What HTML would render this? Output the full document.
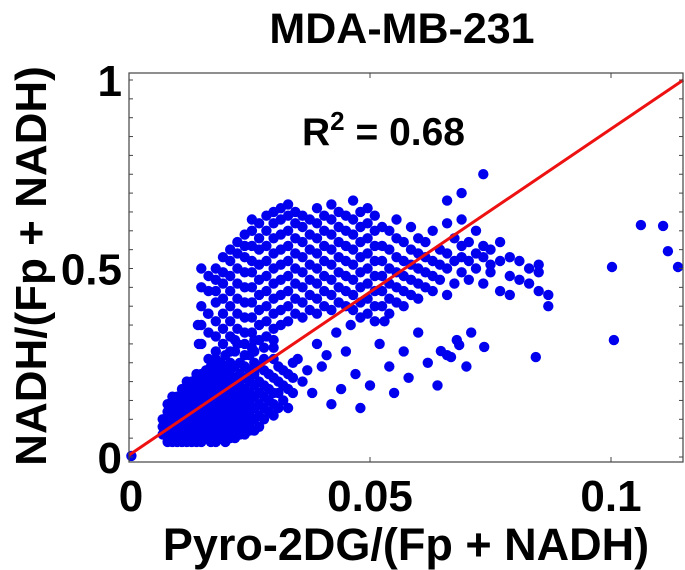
<!DOCTYPE html>
<html><head><meta charset="utf-8"><style>
html,body{margin:0;padding:0;background:#fff;width:685px;height:570px;overflow:hidden}
svg{display:block;font-family:"Liberation Sans",Arial,sans-serif;font-weight:bold}
</style></head><body>
<svg id="chart" width="685" height="570" viewBox="0 0 685 570" xmlns="http://www.w3.org/2000/svg">
<text x="402" y="43" font-size="43" text-anchor="middle">MDA-MB-231</text>
<text x="406" y="560" font-size="45" text-anchor="middle">Pyro-2DG/(Fp + NADH)</text>
<text transform="translate(46,266) rotate(-90)" font-size="44" text-anchor="middle">NADH/(Fp + NADH)</text>
<text x="302" y="145" font-size="39">R<tspan dy="-15" font-size="26">2</tspan><tspan dy="15"> = 0.68</tspan></text>
<g id="marks"></g>
<g id="axes"></g>
</svg>
<script>
const xTicks=[0,0.05,0.1];
const xTickLabels=["0","0.05","0.1"];
const yTicks=[0,0.5,1];
const yTickLabels=["0","0.5","1"];
const fitX=[0,0.115];
const fitY=[0.005,1.0];
// dense columns: x in units of 0.001, y values in units of 0.01
const colX=[7,8,9,10,11,12,13,14,15,16,17,18,19,20,21,22,23,24,25,26,27,28,29,30,31,32,33,34,
15,16.5,18,19.5,21,22.5,24,25.5,27,28.5,30,31.5,33,34.5,36,37.5,39,40.5,42,43.5,45,46.5,48,49.5,51,52.5,54,55.5,57,58.5,60,61.5,63,64.5,66,67.5,69,70.5,72,73.5,75,77,79,81,83,85,87];
const colY=[[6,8,10],[4,6,8,10,12,14],[4,6,8,10,12,14,16],[4,6,8,10,12,14,16],[4,6,8,10,12,14,16,18],
[4,6,8,10,12,14,16,18,20],[4,6,8,10,12,14,16,18,20],[4,6,8,10,12,14,16,18,20,22],[4,6,8,10,12,14,16,18,20,22],
[5,7,9,11,13,15,17,19,21,23],[4,6,8,10,12,14,16,18,20,22,24],[4,6,8,10,12,14,16,18,20,22,24,26],
[5,7,9,11,13,15,17,19,21,23,25],[4,6,8,10,12,14,16,18,20,22,24,27],[5,7,9,11,13,15,17,19,21,23,25],
[5,7,9,11,13,15,17,19,21,24,28,31],[6,8,10,12,14,16,18,20,22,25],[6,8,10,12,14,16,18,21,24,27],
[7,9,11,13,15,17,20,23,27],[7,10,13,16,19,22,25,28,31],[8,11,14,17,20,24],[10,13,16,19,23,26,29],
[12,15,18,22],[11,14,17,21,26,29,31],[13,17,20,24],[15,19,23],[13,18,22],[17,21,25],
[30,35,40,45,50],[26,33,38,44,48],[28,32,36,41,47,50],[30,34,38,42,46,49,53],[28,32,36,40,44,48,52,55],
[30,34,38,42,46,50,54,57],[30,33,37,41,45,49,53,56,59],[29,33,37,41,45,49,52,56,60,63],
[31,35,39,43,47,51,55,58,62],[32,36,40,44,48,52,56,60,64],[34,38,42,46,50,54,58,62,65],
[35,39,43,47,51,55,59,63,66],[36,40,44,48,52,56,60,64,67],[38,42,46,50,54,58,62,65],
[37,41,45,49,53,57,61,64],[39,43,47,51,55,59,63],[38,42,46,50,54,58,62,66],[40,44,48,52,56,60,64],
[39,43,47,51,55,59,63,67],[41,45,49,53,57,61,65],[40,44,48,52,56,60,64],[39,43,47,51,55,59,63,68],
[37,41,45,49,53,57,61,65],[38,42,46,50,54,58,62,66],[36,40,44,48,52,56,60,64],[40,44,48,52,56,61],
[38,42,46,50,55,60],[41,45,49,53,58,63],[40,44,48,52,57],[43,47,51,55,61],[42,46,50,54,58],
[45,49,53,57],[44,48,52,60],[47,51,55],[43,50,54,62,68],[46,52,58],[49,53,56,63,70],[47,52,57],
[50,54,60],[46,53,56,75],[51,55,49],[44,52,57],[48,53,43],[47,52],[46,50],[44,49,51],[43,40]];
// scattered individual points
const ptX=[0.0005,0.036,0.038,0.040,0.042,0.044,0.045,0.047,0.048,0.050,0.052,0.053,0.054,0.055,0.057,0.058,0.060,0.062,0.064,0.066,0.068,0.070,0.071,0.039,0.043,0.046,0.041,0.035,0.037,0.0685,0.0668,0.0737,0.0844,0.0647,0.1002,0.1062,0.1108,0.1118,0.1139,0.1006,0.0143,0.0145,0.0164,0.018];
const ptY=[0.003,0.20,0.17,0.24,0.14,0.18,0.28,0.22,0.13,0.19,0.30,0.36,0.24,0.17,0.28,0.21,0.33,0.25,0.19,0.27,0.31,0.24,0.33,0.30,0.33,0.35,0.27,0.26,0.23,0.297,0.265,0.292,0.265,0.281,0.504,0.615,0.613,0.546,0.504,0.31,0.35,0.30,0.38,0.44];

const L=129,R=683,T=73,B=462;
const xMin=0,xMax=(R-L)/4820;
const yMin=-(B-457)/377,yMax=(457-T)/377;
const sx=v=>L+(v-xMin)/(xMax-xMin)*(R-L);
const sy=v=>B-(v-yMin)/(yMax-yMin)*(B-T);
const NS="http://www.w3.org/2000/svg";
const marks=document.getElementById('marks');
const axes=document.getElementById('axes');
function dot(x,y){
  const c=document.createElementNS(NS,'circle');
  c.setAttribute('cx',sx(x).toFixed(1));c.setAttribute('cy',sy(y).toFixed(1));
  c.setAttribute('r',5.2);c.setAttribute('fill','#0000ee');
  
  
  marks.appendChild(c);
}
colX.forEach((cx,i)=>colY[i].forEach(cy=>dot(cx/1000,cy/100)));
ptX.forEach((x,i)=>dot(x,ptY[i]));
const fl=document.createElementNS(NS,'line');
fl.setAttribute('x1',sx(fitX[0]));fl.setAttribute('y1',sy(fitY[0]));
fl.setAttribute('x2',sx(fitX[1]));fl.setAttribute('y2',sy(fitY[1]));
fl.setAttribute('stroke','#ee1111');fl.setAttribute('stroke-width',3);


marks.appendChild(fl);
const box=document.createElementNS(NS,'rect');
box.setAttribute('x',L);box.setAttribute('y',T);box.setAttribute('width',R-L);box.setAttribute('height',B-T);
box.setAttribute('fill','none');box.setAttribute('stroke','#444');box.setAttribute('stroke-width',1.2);


axes.appendChild(box);
function tick(x1,y1,x2,y2){
  const t=document.createElementNS(NS,'line');
  t.setAttribute('x1',x1);t.setAttribute('y1',y1);t.setAttribute('x2',x2);t.setAttribute('y2',y2);
  t.setAttribute('stroke','#444');t.setAttribute('stroke-width',1);
  
  
  axes.appendChild(t);
}
for(let k=0;k<=20;k++){const y=sy(k*0.05);tick(L,y,L+4,y);tick(R,y,R-4,y);}
xTicks.forEach(v=>{const x=sx(v);tick(x,B,x,B-5);tick(x,T,x,T+5);});
xTicks.forEach((v,i)=>{
  const t=document.createElementNS(NS,'text');
  t.setAttribute('x',sx(v)+(i==0?2:0));t.setAttribute('y',511);
  t.setAttribute('font-size','44');t.setAttribute('text-anchor','middle');
  t.textContent=xTickLabels[i];
  
  
  axes.appendChild(t);
});
yTicks.forEach((v,i)=>{
  const t=document.createElementNS(NS,'text');
  t.setAttribute('x',122);t.setAttribute('y',sy(v)+16);
  t.setAttribute('font-size','44');t.setAttribute('text-anchor','end');
  t.textContent=yTickLabels[i];
  
  
  axes.appendChild(t);
});
</script>
</body></html>
